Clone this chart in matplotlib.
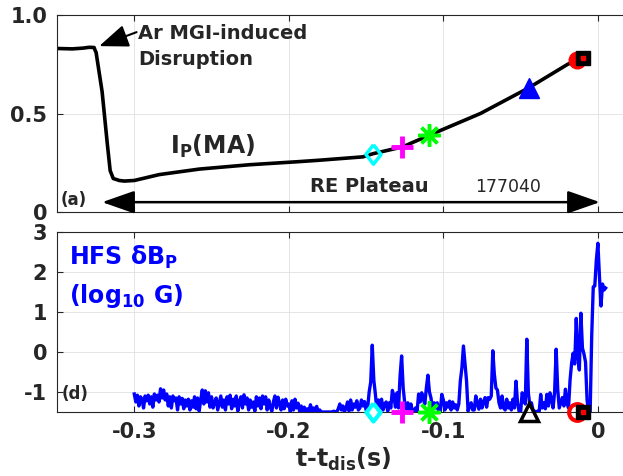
import numpy as np
import matplotlib.pyplot as plt

plt.rcParams['font.family'] = 'DejaVu Sans'
plt.rcParams['font.weight'] = 'bold'
plt.rcParams['mathtext.fontset'] = 'dejavusans'
plt.rcParams['axes.unicode_minus'] = False

# plasma current Ip (MA)
ip_t = [-0.350, -0.340, -0.333, -0.3292, -0.3260, -0.3253, -0.3247, -0.3208, -0.3175,
        -0.3156, -0.3136, -0.3097, -0.3065, -0.300, -0.2838, -0.2578, -0.2253, -0.1929,
        -0.180, -0.152, -0.1455, -0.1266, -0.109, -0.100, -0.076, -0.0448, -0.0195,
        -0.0136, -0.0097, -0.0065]
ip_v = [0.830, 0.828, 0.832, 0.836, 0.835, 0.820, 0.810, 0.610, 0.350,
        0.210, 0.170, 0.160, 0.157, 0.160, 0.190, 0.218, 0.240, 0.256,
        0.263, 0.280, 0.296, 0.330, 0.390, 0.420, 0.500, 0.630, 0.750,
        0.770, 0.780, 0.790]

# event markers (times and Ip value at each)
mark_t = [-0.1455, -0.1266, -0.109, -0.0448, -0.0136, -0.0097]
mark_ip = [0.296, 0.330, 0.390, 0.630, 0.770, 0.780]

# HFS dBp (log10 G), one sample per ms starting at -0.300 s
db_t0 = -0.300
db_dt = 0.001
db_v = [
    -1.05, -1.25, -1.08, -1.35, -1.12, -1.18, -1.40, -1.10, -1.22, -1.08,
    -1.30, -1.12, -1.38, -1.05, -1.20, -1.08, -1.25, -0.92, -1.15, -0.95,
    -1.20, -1.05, -1.35, -1.12, -1.40, -1.10, -1.22, -1.15, -1.45, -1.12,
    -1.30, -1.16, -1.42, -1.20, -1.35, -1.18, -1.45, -1.22, -1.38, -1.12,
    -1.42, -1.15, -1.48, -1.20, -0.95, -1.30, -0.97, -1.25, -1.02, -1.38,
    -1.12, -1.40, -1.25, -1.15, -1.45, -1.28, -1.10, -1.38, -1.20, -1.45,
    -1.12, -1.30, -1.08, -1.42, -1.18, -1.35, -1.10, -1.48, -1.25, -1.12,
    -1.40, -1.07, -1.30, -1.15, -1.45, -1.20, -1.38, -1.25, -1.48, -1.12,
    -1.35, -1.15, -1.42, -1.10, -1.30, -1.12, -1.45, -1.20, -1.38, -1.48,
    -1.25, -1.10, -1.40, -1.13, -1.28, -1.45, -1.20, -1.42, -1.18, -1.35,
    -1.30, -1.50, -1.22, -1.45, -1.18, -1.40, -1.28, -1.48, -1.35, -1.50,
    -1.38, -1.50, -1.42, -1.50, -1.32, -1.48, -1.40, -1.50, -1.36, -1.50,
    -1.45, -1.50, -1.50, -1.50, -1.50, -1.50, -1.50, -1.50, -1.50, -1.48,
    -1.50, -1.50, -1.42, -1.30, -1.45, -1.35, -1.50, -1.40, -1.25, -1.48,
    -1.20, -1.45, -1.30, -1.38, -1.22, -1.45, -1.40, -1.20, -1.35, -1.24,
    -1.45, -1.40, -1.00, -0.75, 0.17, -0.70, -1.05, -1.45, -1.20, -1.40,
    -1.18, -1.45, -1.30, -1.25, -1.48, -1.27, -1.40, -0.96, -1.10, -1.38,
    -1.02, -1.40, -0.60, -0.10, -0.90, -1.27, -1.42, -1.27, -1.45, -1.30,
    -1.48, -1.50, -1.40, -1.48, -1.05, -1.25, -1.02, -1.18, -1.30, -0.90,
    -0.58, -1.00, -1.15, -1.45, -1.27, -1.40, -1.27, -1.50, -1.48, -1.06,
    -1.20, -1.45, -1.27, -1.38, -1.23, -1.45, -1.25, -1.40, -1.32, -1.45,
    -1.30, -0.72, -0.40, 0.15, -0.30, -0.72, -1.48, -1.35, -1.27, -1.45,
    -1.45, -1.10, -1.30, -1.43, -1.18, -1.40, -1.25, -1.14, -1.38, -1.14,
    -1.18, -1.10, 0.03, -0.56, -0.90, -0.95, -1.27, -1.40, -1.10, -1.40,
    -1.45, -1.18, -1.40, -1.27, -1.45, -1.18, -1.40, -0.73, -1.27, -1.48,
    -1.50, -1.02, -1.14, -1.30, 0.32, -1.02, -1.35, -1.27, -1.45, -1.48,
    -1.50, -1.48, -1.50, -1.06, -1.40, -1.27, -1.42, -1.06, -1.35, -1.02,
    -1.18, -1.40, -1.00, 0.07, -0.93, -1.40, -1.27, -1.14, -1.35, -0.93,
    -1.27, -1.40, -0.70, -0.28, -0.03, -0.30, 0.84, -0.10, -0.45, 0.97,
    0.10, -0.05, -0.25, -1.20, -1.50, -1.50, 0.40, 1.63, 1.65, 2.30,
    2.72, 1.90, 1.15, 1.70, 1.55, 1.60,
]
db_t = db_t0 + db_dt * np.arange(len(db_v))

xticks = [-0.3, -0.2, -0.1, 0]
xticklabels = ['-0.3', '-0.2', '-0.1', '0']
ip_ticks = [0, 0.5, 1.0]
ip_ticklabels = ['0', '0.5', '1.0']
db_ticks = [-1, 0, 1, 2, 3]
db_ticklabels = ['-1', '0', '1', '2', '3']

gray = '#262626'
diamond = [(0, 1), (0.78, 0), (0, -1), (-0.78, 0), (0, 1)]

fig = plt.figure(figsize=(6.23, 4.76), dpi=100)
ax1 = fig.add_axes([0.0915, 0.5546, 0.9178, 0.4139])
ax2 = fig.add_axes([0.0915, 0.1345, 0.9178, 0.378])

for ax in (ax1, ax2):
    ax.set_xlim(-0.35, 0.02)
    ax.set_xticks(xticks)
    ax.tick_params(direction='in', top=True, right=True, length=4, width=0.8,
                   labelsize=15, colors=gray, pad=7)
    ax.grid(True, color='#e0e0e0', lw=0.6)
    ax.set_axisbelow(True)
    for s in ax.spines.values():
        s.set_color(gray)
        s.set_linewidth(0.8)

# ---- panel (a)
ax1.plot(ip_t, ip_v, color='k', lw=2.6)
ax1.set_ylim(0, 1.0)
ax1.set_yticks(ip_ticks)
ax1.set_yticklabels(ip_ticklabels)
ax1.set_xticklabels([])

ax1.plot(mark_t[0], mark_ip[0], marker=diamond, ms=14, mfc='none', mec='cyan', mew=2.5)
ax1.plot(mark_t[1], mark_ip[1], marker='+', ms=16, mec='magenta', mew=3.5)
ax1.plot(mark_t[2], mark_ip[2], marker=(8, 2, 0), ms=16, mec='#00ff00', mew=2.5)
ax1.plot(mark_t[3], mark_ip[3], marker='^', ms=14, mfc='b', mec='b')
ax1.plot(mark_t[4], mark_ip[4], marker='o', ms=12, mfc='r', mec='r')
ax1.plot(mark_t[5], mark_ip[5], marker='s', ms=10, mfc='k', mec='k')
ax1.plot(mark_t[5], mark_ip[5], marker='s', ms=3, mfc='r', mec='r')

ax1.text(-0.2974, 0.84, 'Ar MGI-induced\nDisruption', fontsize=14, color=gray,
         ha='left', va='center', linespacing=1.45)
ax1.annotate('', xy=(-0.3227, 0.842), xytext=(-0.2985, 0.913),
             arrowprops=dict(arrowstyle='-|>,head_length=0.9,head_width=0.35',
                             color='k', lw=1.5, mutation_scale=20,
                             shrinkA=0, shrinkB=0))
ax1.text(-0.249, 0.332, 'I$_\\mathbf{P}$(MA)', fontsize=17, color=gray,
         ha='center', va='center')
ax1.annotate('', xy=(0.0013, 0.05), xytext=(-0.3208, 0.05),
             arrowprops=dict(arrowstyle='<|-|>,head_length=1.0,head_width=0.35',
                             color='k', lw=1.8, mutation_scale=20,
                             shrinkA=0, shrinkB=0))
ax1.text(-0.148, 0.128, 'RE Plateau', fontsize=14, color=gray, ha='center', va='center')
ax1.text(-0.0584, 0.128, '177040', fontsize=12.5, fontweight='normal', color=gray,
         ha='center', va='center')
ax1.text(-0.3474, 0.061, '(a)', fontsize=12, color=gray, ha='left', va='center')

# ---- panel (d)
ax2.plot(db_t, db_v, color='b', lw=2.4)
ax2.set_ylim(-1.5, 3)
ax2.set_yticks(db_ticks)
ax2.set_yticklabels(db_ticklabels)
ax2.set_xticklabels(xticklabels)
ax2.set_xlabel('t-t$_\\mathbf{dis}$(s)', fontsize=17, fontweight='bold', color=gray,
               labelpad=3)

yb = ax2.get_ylim()[0]
kw = dict(clip_on=False, zorder=5)
ax2.plot(mark_t[0], yb, marker=diamond, ms=13, mfc='white', mec='cyan', mew=3, **kw)
ax2.plot(mark_t[1], yb, marker='+', ms=16, mec='magenta', mew=3.5, **kw)
ax2.plot(mark_t[2], yb, marker=(8, 2, 0), ms=16, mec='#00ff00', mew=2.5, **kw)
ax2.plot(mark_t[3], yb, marker='^', ms=13, mfc='none', mec='k', mew=2.5, **kw)
ax2.plot(mark_t[4], yb, marker='o', ms=12, mfc='none', mec='r', mew=3, **kw)
ax2.plot(mark_t[5], yb, marker='s', ms=10, mfc='k', mec='k', **kw)
ax2.plot(mark_t[5], yb, marker='s', ms=3, mfc='r', mec='r', **kw)

ax2.text(-0.3422, 2.375, 'HFS δB$_\\mathbf{P}$', fontsize=17, color='b',
         ha='left', va='center')
ax2.text(-0.3422, 1.40, '(log$_\\mathbf{10}$ G)', fontsize=17, color='b',
         ha='left', va='center')
ax2.text(-0.3468, -1.05, '(d)', fontsize=12, color=gray, ha='left', va='center')

fig.savefig('out.png', dpi=100)
